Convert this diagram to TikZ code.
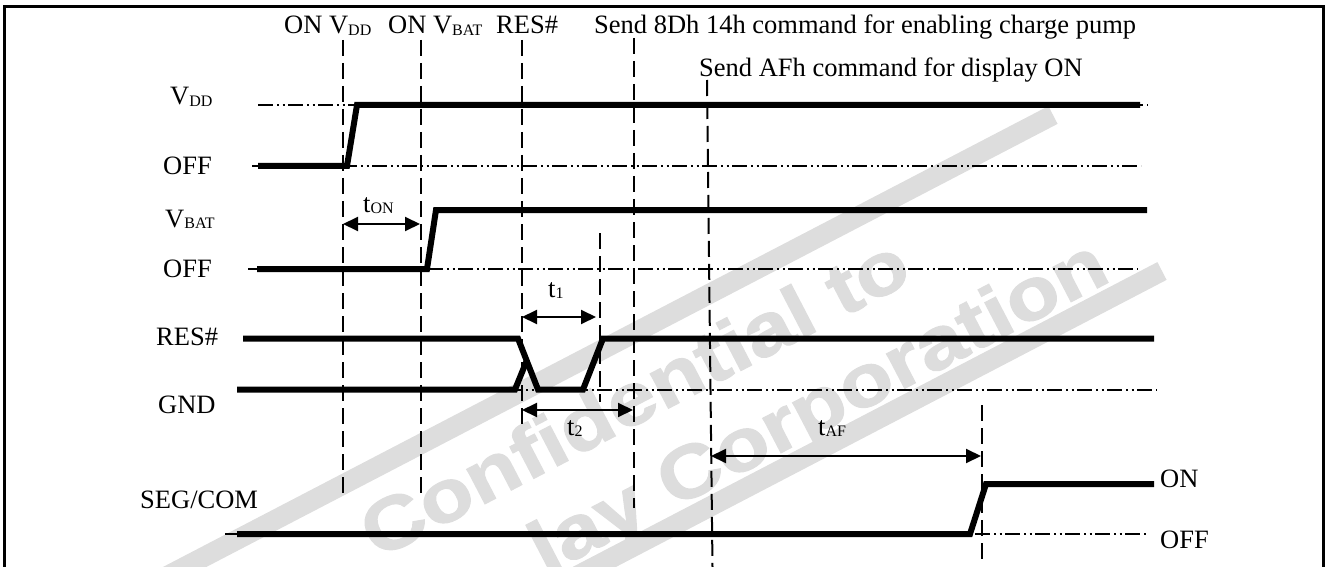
\documentclass[tikz,border=0pt]{standalone}
\usepackage{fontspec}
\setmainfont{Liberation Serif}
\setsansfont{Liberation Sans}
\newfontfamily\wmfont[FakeBold=1.5]{Liberation Sans Bold}
\usetikzlibrary{arrows.meta}
\definecolor{wmgrey}{RGB}{221,221,221}
\newcommand\sbs[1]{\raisebox{-1.5pt}{\fontsize{16}{16}\selectfont #1}}
\begin{document}
\begin{tikzpicture}[x=1pt,y=-1pt,
  sig/.style={line width=6pt, line join=miter},
  refline/.style={line width=2pt, dash pattern=on 15pt off 4pt on 2pt off 3.5pt on 2pt off 3.5pt},
  tmarker/.style={line width=2pt, dash pattern=on 16pt off 7pt},
  dimarrow/.style={line width=2pt, {Triangle[length=15pt,width=14pt]}-{Triangle[length=15pt,width=14pt]}},
  lbl/.style={inner sep=0pt, anchor=base west, font=\fontsize{26.5}{30}\selectfont},
  wmtext/.style={inner sep=0pt, anchor=base east, rotate=27.5, text=wmgrey, font=\wmfont\fontsize{74}{74}\selectfont},
  frameline/.style={line width=3pt}]
\useasboundingbox (0,0) rectangle (1326,567);
% watermark
\begin{scope}
\clip (0,0) rectangle (1326,567);
\fill[wmgrey] (1057.6,123.9) -- (1048.4,106.1) -- (72.4,614.1) -- (81.6,631.9) -- cycle;
\fill[wmgrey] (1166.6,279.9) -- (1157.4,262.1) -- (359.4,678.1) -- (368.6,695.9) -- cycle;
\node[wmtext] (wm1) at (915,280) {\scalebox{1.17}[1]{Confidential to}};
\node[wmtext] (wm2) at (1113,280) {\scalebox{1.17}[1]{lay Corporation}};
\end{scope}
% frame
\coordinate (fbl) at (4.2,570); \coordinate (ftl) at (4.2,6.7);
\coordinate (ftr) at (1323,6.7); \coordinate (fbr) at (1323,570);
\draw[frameline] (fbl) -- (ftl) -- (ftr) -- (fbr);
% time markers
\coordinate (m1t) at (343,40);    \coordinate (m1b) at (343,497);
\coordinate (m2t) at (420.5,40);  \coordinate (m2b) at (420.5,497);
\coordinate (m3t) at (522,40);    \coordinate (m3b) at (522,425);
\coordinate (m4t) at (634,38);    \coordinate (m4b) at (634,508);
\coordinate (m5t) at (707,80);    \coordinate (m5b) at (712.5,567);
\coordinate (m6t) at (599.5,233); \coordinate (m6b) at (599.5,402);
\coordinate (m7t) at (982,405);   \coordinate (m7b) at (982,562);
\foreach \m in {1,...,7} \draw[tmarker] (m\m t) -- (m\m b);
% reference levels
\coordinate (r1a) at (258,105);   \coordinate (r1b) at (1148,105);
\coordinate (r2a) at (252,166);   \coordinate (r2b) at (1141,166);
\coordinate (r3a) at (248,269);   \coordinate (r3b) at (1138,269);
\coordinate (r4a) at (237,389.5); \coordinate (r4b) at (1157,389.5);
\coordinate (r5a) at (225,534);   \coordinate (r5b) at (1148,534);
\foreach \r in {1,...,5} \draw[refline] (r\r a) -- (r\r b);
% VDD
\coordinate (v1) at (258,166); \coordinate (v2) at (347,166);
\coordinate (v3) at (357,105); \coordinate (v4) at (1140,105);
\draw[sig] (v1) -- (v2) -- (v3) -- (v4);
% VBAT
\coordinate (b1) at (257,269); \coordinate (b2) at (427,269);
\coordinate (b3) at (436,210); \coordinate (b4) at (1147,210);
\draw[sig] (b1) -- (b2) -- (b3) -- (b4);
% RES#
\coordinate (s1) at (243,338.5); \coordinate (s2) at (518,338.5);
\coordinate (s3) at (538,389.5); \coordinate (s4) at (583,389.5);
\coordinate (s5) at (603,338.5); \coordinate (s6) at (1154,338.5);
\draw[sig] (s1) -- (s2) -- (s3) -- (s4) -- (s5) -- (s6);
\coordinate (g1) at (237,389.5); \coordinate (g2) at (515,389.5);
\coordinate (g3) at (527,360);
\draw[sig] (g1) -- (g2) -- (g3);
% SEG/COM
\coordinate (c1) at (237,534); \coordinate (c2) at (970,534);
\coordinate (c3) at (986,484); \coordinate (c4) at (1154,484);
\draw[sig] (c1) -- (c2) -- (c3) -- (c4);
% timing arrows
\coordinate (aon1) at (343,224);  \coordinate (aon2) at (420,224);
\coordinate (at11) at (522,317);  \coordinate (at12) at (596,317);
\coordinate (at21) at (522,410);  \coordinate (at22) at (633,410);
\coordinate (aaf1) at (711,456);  \coordinate (aaf2) at (981,456);
\draw[dimarrow] (aon1) -- (aon2);
\draw[dimarrow] (at11) -- (at12);
\draw[dimarrow] (at21) -- (at22);
\draw[dimarrow] (aaf1) -- (aaf2);
% left labels
\node[lbl] (lvdd)  at (170,105) {V\sbs{DD}};
\node[lbl] (loff1) at (163,175) {OFF};
\node[lbl] (lvbat) at (165,227) {V\sbs{BAT}};
\node[lbl] (loff2) at (163,277) {OFF};
\node[lbl] (lres)  at (156,345) {RES\#};
\node[lbl] (lgnd)  at (158,413) {GND};
\node[lbl] (lseg)  at (140,508) {SEG/COM};
\node[lbl] (lon)   at (1160,487) {ON};
\node[lbl] (loff3) at (1160,548) {OFF};
% top labels
\node[lbl] (tvdd)  at (284,34) {ON V\sbs{DD}};
\node[lbl] (tvbat) at (388,34) {ON V\sbs{BAT}};
\node[lbl] (tres)  at (496,34) {RES\#};
\node[lbl] (tsend) at (594,34) {Send 8Dh 14h command for enabling charge pump};
\node[lbl] (taf)   at (699,77) {Send AFh command for display ON};
% time labels
\node[lbl] (ton) at (363,212) {t\sbs{ON}};
\node[lbl] (tt1) at (548,297) {t\sbs{1}};
\node[lbl] (tt2) at (567,435) {t\sbs{2}};
\node[lbl] (ttaf) at (818,435) {t\sbs{AF}};
\end{tikzpicture}
\end{document}
